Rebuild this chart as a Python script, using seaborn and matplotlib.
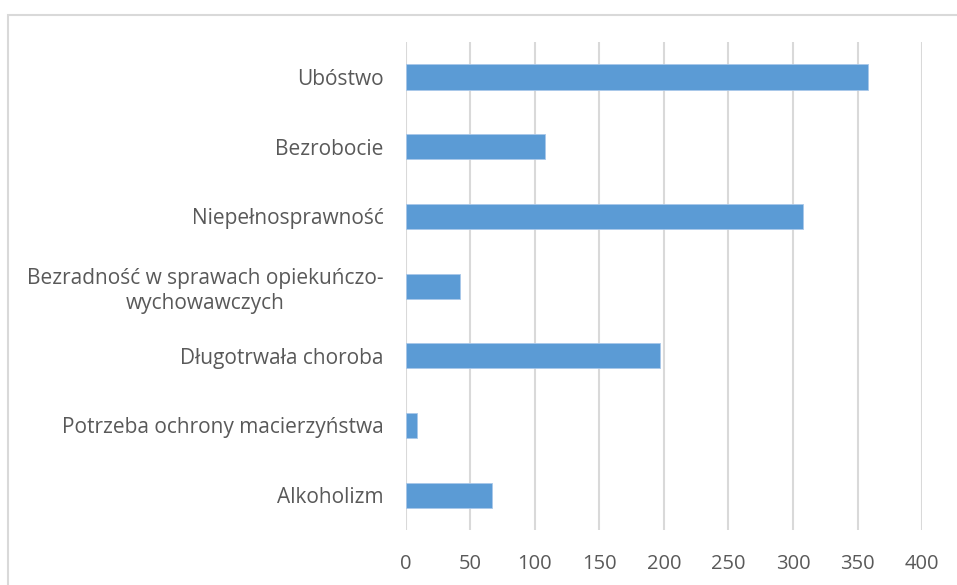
import pandas as pd
import matplotlib
matplotlib.use('Agg')
import matplotlib.pyplot as plt
import seaborn as sns
from matplotlib.patches import Rectangle

kategorie = ['Ubóstwo', 'Bezrobocie', 'Niepełnosprawność',
             'Bezradność w sprawach opiekuńczo-\nwychowawczych',
             'Długotrwała choroba', 'Potrzeba ochrony macierzyństwa', 'Alkoholizm']
wartosci = [358, 108, 308, 42, 197, 9, 67]
x_ticks = [0, 50, 100, 150, 200, 250, 300, 350, 400]

df = pd.DataFrame({'Kategoria': kategorie, 'Liczba': wartosci})

sns.set_style('white')
plt.rcParams['font.family'] = ['Open Sans', 'DejaVu Sans']

fig = plt.figure(figsize=(9.57, 5.85), dpi=100)
ax = fig.add_axes([0.424, 0.094, 0.9635 - 0.424, 0.928 - 0.094])
sns.barplot(data=df, x='Liczba', y='Kategoria', color='#5b9bd5', saturation=1,
            width=0.36, edgecolor='#a9c8ea', linewidth=0.6, ax=ax, zorder=3)

ax.set_xlim(0, 400)
ax.set_xticks(x_ticks)
ax.set_xlabel('')
ax.set_ylabel('')
ax.grid(axis='x', color='#d9d9d9', linewidth=1.5, zorder=0)
ax.set_axisbelow(True)
for s in ax.spines.values():
    s.set_visible(False)
ax.tick_params(axis='y', length=0, pad=16, labelsize=15, labelcolor='#595959')
ax.tick_params(axis='x', length=0, pad=17, labelsize=14.5, labelcolor='#595959')
for t in ax.get_yticklabels():
    t.set_multialignment('center')
    t.set_linespacing(1.3)

# ramka obszaru wykresu
fig.patches.append(Rectangle((8 / 957, -0.05), 1.1, 1 - 15 / 585 + 0.05,
                             transform=fig.transFigure, fill=False,
                             edgecolor='#d9d9d9', linewidth=1.5))

plt.savefig('out.png', dpi=100)
plt.close()
